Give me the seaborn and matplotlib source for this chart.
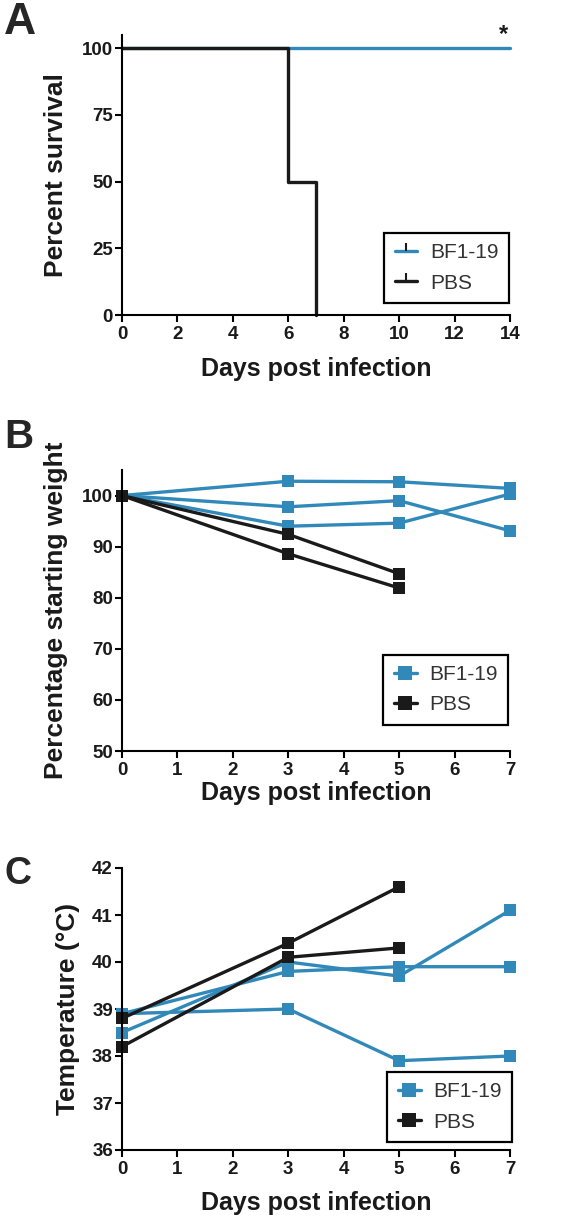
import matplotlib
matplotlib.use("Agg")
import matplotlib.pyplot as plt
from matplotlib.lines import Line2D
import seaborn as sns
import pandas as pd

# survival (Kaplan-Meier style, steps)
surv_days_bf = [0, 14]
surv_bf = [100, 100]
surv_days_pbs = [0, 6, 7]
surv_pbs = [100, 50, 0]

# weight (% of starting weight), one list per mouse
weight_days = [0, 3, 5, 7]
weight_bf = [[100, 102.8, 102.7, 101.4],
             [100, 97.8, 99.0, 93.1],
             [100, 94.0, 94.6, 100.3]]
weight_days_pbs = [0, 3, 5]
weight_pbs = [[100, 92.4, 84.7],
              [100, 88.6, 81.9]]

# temperature (deg C)
temp_bf = [[38.9, 39.8, 39.9, 39.9],
           [38.5, 40.0, 39.7, 41.1],
           [38.9, 39.0, 37.9, 38.0]]
temp_pbs = [[38.8, 40.4, 41.6],
            [38.2, 40.1, 40.3]]

BLUE = "#3189BA"
BLACK = "#1a1a1a"
groups = ["BF1-19", "PBS"]
pal = {"BF1-19": BLUE, "PBS": BLACK}

sns.set_style("ticks")
plt.rcParams["font.family"] = ["Liberation Sans", "DejaVu Sans"]
plt.rcParams["axes.linewidth"] = 1.5

XL = 18    # x label size
YL = 19    # y label size


def long_df(bf, pbs, days_bf, days_pbs):
    rows = []
    for i, vals in enumerate(bf):
        for d, v in zip(days_bf, vals):
            rows.append({"day": d, "value": v, "group": "BF1-19", "mouse": "b%d" % i})
    for i, vals in enumerate(pbs):
        for d, v in zip(days_pbs, vals):
            rows.append({"day": d, "value": v, "group": "PBS", "mouse": "p%d" % i})
    return pd.DataFrame(rows)


def style_axis(ax, xlim, ylim, xticks, yticks):
    ax.set_xlim(*xlim)
    ax.set_ylim(*ylim)
    ax.set_xticks(xticks)
    ax.set_yticks(yticks)
    sns.despine(ax=ax)
    for s in ["left", "bottom"]:
        ax.spines[s].set_linewidth(1.5)
        ax.spines[s].set_color("black")
    ax.tick_params(axis="both", length=5, width=1.5, color="black")
    ax.tick_params(axis="y", pad=1.5)
    ax.tick_params(axis="x", pad=3)
    for lab in ax.get_xticklabels() + ax.get_yticklabels():
        lab.set_fontsize(13.5)
        lab.set_fontweight("bold")
        lab.set_color("#1a1a1a")


def add_legend(ax, handles, anchor):
    leg = ax.legend(handles=handles, labels=groups, loc="lower right",
                    bbox_to_anchor=anchor, borderaxespad=0, fancybox=False,
                    framealpha=1, edgecolor="black", fontsize=15,
                    handlelength=1.1, handletextpad=0.6, labelspacing=0.55,
                    borderpad=0.5)
    leg.get_frame().set_linewidth(1.6)
    for t in leg.get_texts():
        t.set_color("#333333")
    return leg


fig = plt.figure(figsize=(5.66, 12.19), dpi=100)
W, H = 566.0, 1219.0
axA = fig.add_axes([122 / W, 1 - 315 / H, 388 / W, 280 / H])
axB = fig.add_axes([122 / W, 1 - 751 / H, 388 / W, 281 / H])
axC = fig.add_axes([122 / W, 1 - 1150 / H, 388 / W, 282 / H])

# ---- A: survival
sns.lineplot(x=surv_days_bf, y=surv_bf, ax=axA, color=BLUE, linewidth=2.4,
             drawstyle="steps-post", clip_on=False)
sns.lineplot(x=surv_days_pbs, y=surv_pbs, ax=axA, color=BLACK, linewidth=2.4,
             drawstyle="steps-post", clip_on=False)
style_axis(axA, (0, 14), (0, 105), range(0, 15, 2), [0, 25, 50, 75, 100])
axA.set_xlabel("Days post infection", fontsize=XL, fontweight="bold", color="#1a1a1a")
axA.set_ylabel("Percent survival", fontsize=YL, fontweight="bold", color="#1a1a1a")
axA.text(13.75, 101, "*", fontsize=17, fontweight="bold", ha="center", va="bottom",
         color="#1a1a1a", clip_on=False)
hA = [Line2D([], [], color=c, linewidth=2.4, marker=2, markersize=6,
             markeredgewidth=1.5, markeredgecolor=BLACK) for c in [BLUE, BLACK]]
add_legend(axA, hA, (0.997, 0.043))

# ---- B: weight
dfB = long_df(weight_bf, weight_pbs, weight_days, weight_days_pbs)
sns.lineplot(data=dfB, x="day", y="value", hue="group", units="mouse",
             estimator=None, palette=pal, marker="s", markersize=8.5,
             markeredgewidth=0, linewidth=2.4, ax=axB, legend=False, clip_on=False)
style_axis(axB, (0, 7), (50, 105), range(0, 8), range(50, 101, 10))
axB.set_xlabel("Days post infection", fontsize=XL, fontweight="bold", color="#1a1a1a")
axB.set_ylabel("Percentage starting weight", fontsize=YL, fontweight="bold", color="#1a1a1a")
hB = [Line2D([], [], color=c, linewidth=2.4, marker="s", markersize=9.5,
             markeredgewidth=0) for c in [BLUE, BLACK]]
add_legend(axB, hB, (0.995, 0.093))

# ---- C: temperature
dfC = long_df(temp_bf, temp_pbs, weight_days, weight_days_pbs)
sns.lineplot(data=dfC, x="day", y="value", hue="group", units="mouse",
             estimator=None, palette=pal, marker="s", markersize=8.5,
             markeredgewidth=0, linewidth=2.4, ax=axC, legend=False, clip_on=False)
style_axis(axC, (0, 7), (36, 42), range(0, 8), range(36, 43))
axC.set_xlabel("Days post infection", fontsize=XL, fontweight="bold", color="#1a1a1a")
axC.set_ylabel("Temperature (\u00b0C)", fontsize=YL, fontweight="bold", color="#1a1a1a")
add_legend(axC, hB, (1.005, 0.028))

# label positions
axA.xaxis.set_label_coords(0.5, -0.15)
axB.xaxis.set_label_coords(0.5, -0.105)
axC.xaxis.set_label_coords(0.5, -0.145)
axA.yaxis.set_label_coords(-0.14, 0.5)
axB.yaxis.set_label_coords(-0.14, 0.5)
axC.yaxis.set_label_coords(-0.108, 0.5)

# panel letters
fig.text(4 / W, 1 - 2 / H, "A", fontsize=32, fontweight="bold", va="top", ha="left")
fig.text(4 / W, 1 - 418 / H, "B", fontsize=29, fontweight="bold", va="top", ha="left")
fig.text(4 / W, 1 - 856 / H, "C", fontsize=27, fontweight="bold", va="top", ha="left")

fig.savefig("out.png", dpi=100)
